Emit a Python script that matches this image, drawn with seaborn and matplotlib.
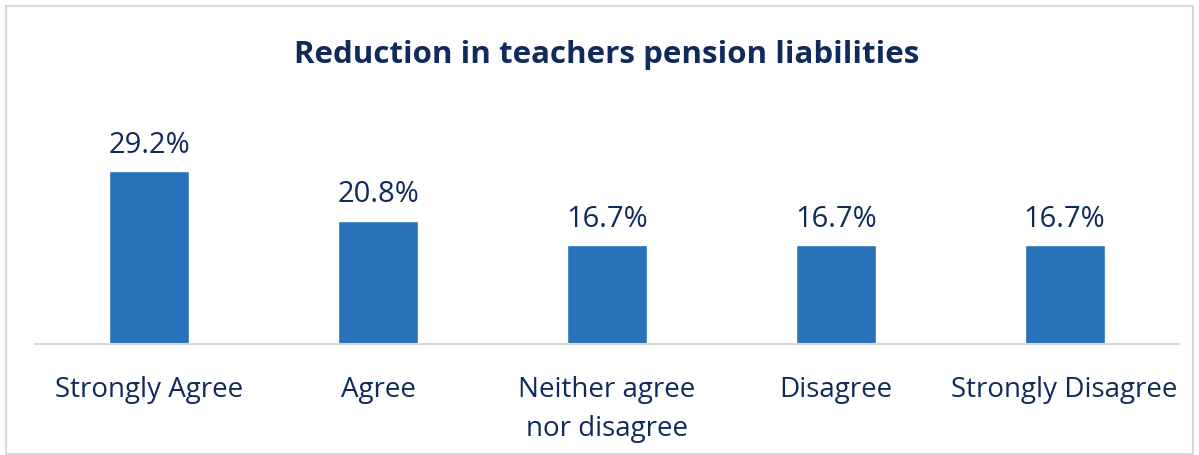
import matplotlib
matplotlib.use("Agg")
import matplotlib.pyplot as plt
import seaborn as sns
import pandas as pd

# ---- data ----
categories = ["Strongly Agree", "Agree", "Neither agree\nnor disagree",
              "Disagree", "Strongly Disagree"]
shares = [29.2, 20.8, 16.7, 16.7, 16.7]
value_labels = ["29.2%", "20.8%", "16.7%", "16.7%", "16.7%"]
title = "Reduction in teachers pension liabilities"

BAR_COLOR = "#2872B9"
TEXT_COLOR = "#112A5C"
FONT = "Open Sans"

sns.set_style("white")
plt.rcParams["font.family"] = [FONT, "DejaVu Sans"]

df = pd.DataFrame({"category": categories, "share": shares})

fig = plt.figure(figsize=(11.99, 4.56), dpi=100)
ax = fig.add_axes([35 / 1199, 111 / 456, 1144 / 1199, 207 / 456])

sns.barplot(data=df, x="category", y="share", color=BAR_COLOR,
            width=0.35, saturation=1, ax=ax)

ax.set_ylim(0, 35)
ax.set_yticks([])
ax.set_xlabel("")
ax.set_ylabel("")
for side in ["top", "right", "left"]:
    ax.spines[side].set_visible(False)
ax.spines["bottom"].set_color("#D9D9D9")
ax.spines["bottom"].set_linewidth(1.5)
ax.tick_params(axis="x", length=0, pad=22, labelsize=20, colors=TEXT_COLOR)
for lbl in ax.get_xticklabels():
    lbl.set_linespacing(1.55)

for cont in ax.containers:
    ax.bar_label(cont, labels=value_labels, padding=9, fontsize=21,
                 color=TEXT_COLOR)

fig.text(607 / 1199, 1 - 55 / 456, title, ha="center", va="center",
         fontsize=22.5, fontweight="bold", color=TEXT_COLOR)

# outer border
border = plt.Rectangle((6 / 1199, 0.002), 1 - 12 / 1199, 1 - 8 / 456,
                       transform=fig.transFigure, fill=False,
                       edgecolor="#D9D9D9", linewidth=1.5)
fig.patches.append(border)

fig.savefig("out.png", dpi=100, facecolor="white")
